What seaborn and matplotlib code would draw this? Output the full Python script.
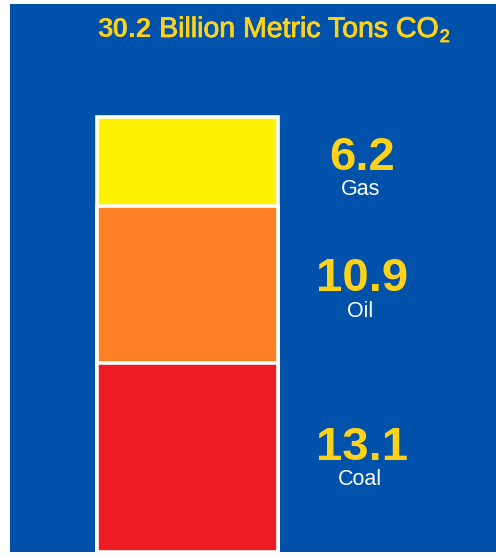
import numpy as np
import pandas as pd
import matplotlib
matplotlib.use('Agg')
import matplotlib.pyplot as plt
import matplotlib.patheffects as pe
import seaborn as sns

# data
sources = ['Coal', 'Oil', 'Gas']          # bottom to top
emissions = [13.1, 10.9, 6.2]             # billion metric tons CO2
seg_colors = ['#ED1C24', '#FF8022', '#FFF200']
total_text = '30.2'

sns.set_style('white')
plt.rcParams['font.family'] = ['Liberation Sans', 'DejaVu Sans']

W, H = 496, 557
fig = plt.figure(figsize=(W / 100, H / 100), dpi=100, facecolor='white')
# blue panel: x 10..496, y 4..552 (pixels from top)
ax = fig.add_axes([10 / W, 5 / H, 486 / W, 548 / H])
blue = '#0051A9'
ax.set_facecolor(blue)

# stacked bar: draw cumulative totals, tallest first
tops = np.cumsum(emissions)
df = pd.DataFrame({'stack': ['CO2'] * len(sources), 'source': sources, 'top': tops})
for i in range(len(sources) - 1, -1, -1):
    sns.barplot(data=df.iloc[[i]], x='stack', y='top', color=seg_colors[i],
                saturation=1, width=0.8, edgecolor='white', linewidth=2.6, ax=ax)

ax.set_xlim(-0.785, 1.365)
ax.set_ylim(0, 38.05)
ax.set_xlabel('')
ax.set_ylabel('')
ax.set_xticks([])
ax.set_yticks([])
for s in ax.spines.values():
    s.set_visible(False)

gold = '#FFD21A'
x_lab = 0.724  # axes fraction
bottoms = tops - np.array(emissions)
num_offsets = [-0.14, -0.42, -0.56]   # baseline relative to segment middle
lab_offsets = [-1.9, -2.2, -2.29]
for i, (name, val) in enumerate(zip(sources, emissions)):
    mid = bottoms[i] + val / 2
    ax.text(x_lab, mid + num_offsets[i], f'{val:.1f}',
            transform=ax.get_yaxis_transform(), ha='center', va='baseline',
            fontsize=34, fontweight='bold', color=gold)
    ax.text(x_lab - 0.003, mid + lab_offsets[i], name,
            transform=ax.get_yaxis_transform(), ha='center', va='baseline',
            fontsize=15.5, color='white')

# title: bold number, regular words, subscript 2
thick = [pe.withStroke(linewidth=0.6, foreground=gold)]
y_base = 1 - 37 / H
t1 = fig.text(97 / W, y_base, total_text, ha='left', va='baseline',
              fontsize=20, fontweight='bold', color=gold)
fig.canvas.draw()
r = fig.canvas.get_renderer()
x1 = t1.get_window_extent(r).x1
t2 = fig.text(x1 / W, y_base, ' Billion Metric Tons CO', ha='left', va='baseline',
              fontsize=20.5, color=gold, path_effects=thick)
x2 = t2.get_window_extent(r).x1
fig.text((x2 + 1) / W, 1 - 42 / H, '2', ha='left', va='baseline',
         fontsize=13, color=gold, path_effects=thick)

fig.savefig('out.png', dpi=100, facecolor='white')
